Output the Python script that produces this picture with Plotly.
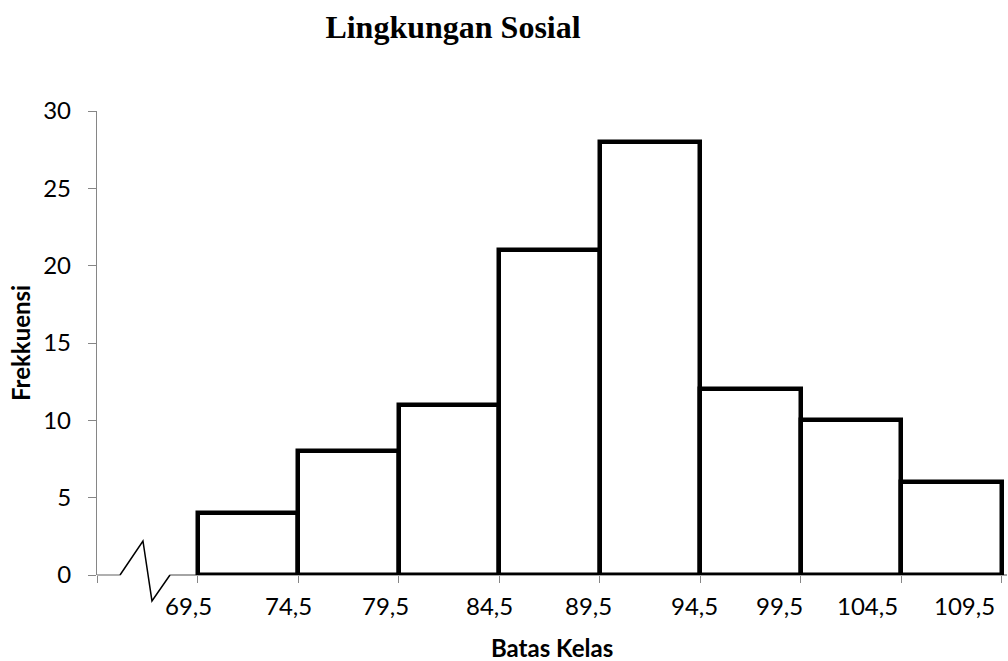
import plotly.graph_objects as go

# ---- data ----
class_edges = [69.5, 74.5, 79.5, 84.5, 89.5, 94.5, 99.5, 104.5, 109.5]
frequencies = [4, 8, 11, 21, 28, 12, 10, 6]
edge_labels = ["69,5", "74,5", "79,5", "84,5", "89,5", "94,5", "99,5", "104,5", "109,5"]
y_ticks = [0, 5, 10, 15, 20, 25, 30]

title_text = "Lingkungan Sosial"
x_title = "Batas Kelas"
y_title = "Frekkuensi"

# ---- derived ----
bar_centers = [(class_edges[i] + class_edges[i + 1]) / 2 for i in range(len(frequencies))]
bar_widths = [class_edges[i + 1] - class_edges[i] for i in range(len(frequencies))]
x_start = class_edges[0] - bar_widths[0]

GRAY = "#868686"
FONT = "Lato"

fig = go.Figure()
fig.add_trace(go.Bar(
    x=bar_centers, y=frequencies, width=bar_widths,
    marker=dict(color="white", line=dict(color="black", width=4.5)),
    cliponaxis=False, hoverinfo="x+y",
))

# label pixel shifts (layout, not data)
label_shifts = [-9, -10, -13, -10, -11, -6, -21, -34, -37]
annotations = []
for v, t, s in zip(class_edges, edge_labels, label_shifts):
    annotations.append(dict(
        x=v, y=0, xref="x", yref="paper", text=t, showarrow=False,
        xanchor="center", yanchor="middle", xshift=s, yshift=-30,
        font=dict(family=FONT, size=24, color="black"),
    ))
annotations.append(dict(
    x=0.5, y=0, xref="paper", yref="paper", text=x_title, showarrow=False,
    xanchor="center", yanchor="middle", yshift=-72,
    font=dict(family=FONT, size=24, color="black", weight="bold"),
))
annotations.append(dict(
    x=0, y=0.5, xref="paper", yref="paper", text=y_title, showarrow=False,
    textangle=-90, xanchor="center", yanchor="middle", xshift=-77,
    font=dict(family=FONT, size=24, color="black", weight="bold"),
))

# axis break zigzag + broken x axis line (paper coords)
shapes = [
    dict(type="line", xref="paper", yref="paper", x0=0, x1=0.0253, y0=0, y1=0,
         line=dict(color=GRAY, width=1.3), layer="below"),
    dict(type="line", xref="paper", yref="paper", x0=0.0802, x1=1, y0=0, y1=0,
         line=dict(color=GRAY, width=1.3), layer="below"),
    dict(type="path", xref="paper", yref="paper",
         path="M 0.0253,0 L 0.0505,0.0733 L 0.0604,-0.056 L 0.0802,0",
         line=dict(color="black", width=1.5)),
]

fig.update_layout(
    width=1008, height=661,
    margin=dict(l=97, r=1, t=111, b=86),
    paper_bgcolor="white", plot_bgcolor="white",
    showlegend=False,
    title=dict(text="<b>" + title_text + "</b>", x=453 / 1008, xanchor="center",
               y=1 - 27 / 661, yanchor="middle", xref="container", yref="container",
               font=dict(family="Liberation Serif", size=32, color="black")),
    annotations=annotations,
    shapes=shapes,
    bargap=0,
)
fig.update_xaxes(
    range=[x_start, class_edges[-1] + 0.25],
    tickvals=[x_start] + class_edges, showticklabels=False,
    ticks="outside", ticklen=7, tickcolor=GRAY, tickwidth=1.3,
    showline=False, showgrid=False, zeroline=False,
)
fig.update_yaxes(
    range=[0, 30], tickvals=y_ticks,
    ticks="outside", ticklen=8, tickcolor=GRAY, tickwidth=1.3,
    showline=True, linecolor=GRAY, linewidth=1.3,
    showgrid=False, zeroline=False,
    tickfont=dict(family=FONT, size=24, color="black"),
    ticklabelstandoff=12,
)

fig.write_html("out.html")
